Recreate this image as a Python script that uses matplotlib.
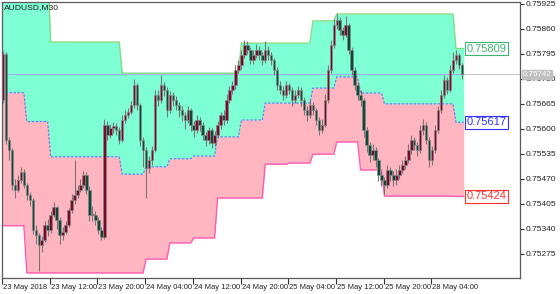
import matplotlib
matplotlib.use("Agg")
import matplotlib.pyplot as plt
from matplotlib.patches import Rectangle
import matplotlib.transforms as mtransforms
import numpy as np

# ---------------- data ----------------
title_text = "AUDUSD,M30"

opens = [0.75675, 0.75796, 0.75571, 0.75545, 0.75454, 0.75441, 0.75467, 0.75488, 0.75454, 0.75428,
         0.75415, 0.75337, 0.75324, 0.75298, 0.75311, 0.75350, 0.75337, 0.75376, 0.75396, 0.75363,
         0.75324, 0.75332, 0.75350, 0.75389, 0.75415, 0.75428, 0.75441, 0.75454, 0.75480, 0.75441,
         0.75376, 0.75376, 0.75363, 0.75337, 0.75319, 0.75610, 0.75584, 0.75602, 0.75607, 0.75597,
         0.75571, 0.75623, 0.75636, 0.75644, 0.75662, 0.75714, 0.75662, 0.75571, 0.75545, 0.75498,
         0.75519, 0.75545, 0.75688, 0.75675, 0.75714, 0.75701, 0.75649, 0.75688, 0.75675, 0.75662,
         0.75649, 0.75636, 0.75623, 0.75649, 0.75610, 0.75597, 0.75623, 0.75610, 0.75584, 0.75571,
         0.75597, 0.75563, 0.75584, 0.75610, 0.75636, 0.75623, 0.75675, 0.75701, 0.75714, 0.75753,
         0.75766, 0.75792, 0.75818, 0.75805, 0.75779, 0.75792, 0.75805, 0.75792, 0.75779, 0.75805,
         0.75792, 0.75779, 0.75753, 0.75714, 0.75701, 0.75688, 0.75714, 0.75701, 0.75675, 0.75688,
         0.75701, 0.75675, 0.75649, 0.75636, 0.75662, 0.75649, 0.75623, 0.75597, 0.75610, 0.75675,
         0.75753, 0.75818, 0.75870, 0.75883, 0.75857, 0.75844, 0.75870, 0.75805, 0.75753, 0.75714,
         0.75688, 0.75675, 0.75597, 0.75558, 0.75532, 0.75545, 0.75519, 0.75480, 0.75467, 0.75454,
         0.75493, 0.75480, 0.75467, 0.75480, 0.75493, 0.75506, 0.75519, 0.75545, 0.75571, 0.75558,
         0.75545, 0.75597, 0.75610, 0.75571, 0.75519, 0.75545, 0.75597, 0.75649, 0.75688, 0.75727,
         0.75701, 0.75753, 0.75779, 0.75792, 0.75766]
highs = [0.75802, 0.75800, 0.75580, 0.75550, 0.75470, 0.75480, 0.75500, 0.75495, 0.75460, 0.75435,
         0.75420, 0.75350, 0.75330, 0.75320, 0.75360, 0.75365, 0.75385, 0.75410, 0.75400, 0.75370,
         0.75345, 0.75360, 0.75395, 0.75430, 0.75520, 0.75455, 0.75470, 0.75490, 0.75488, 0.75450,
         0.75400, 0.75385, 0.75370, 0.75345, 0.75625, 0.75620, 0.75612, 0.75618, 0.75615, 0.75605,
         0.75635, 0.75650, 0.75655, 0.75672, 0.75730, 0.75720, 0.75668, 0.75580, 0.75552, 0.75530,
         0.75555, 0.75700, 0.75700, 0.75740, 0.75722, 0.75708, 0.75698, 0.75695, 0.75685, 0.75670,
         0.75660, 0.75645, 0.75660, 0.75655, 0.75620, 0.75635, 0.75630, 0.75618, 0.75592, 0.75605,
         0.75602, 0.75595, 0.75620, 0.75645, 0.75650, 0.75690, 0.75712, 0.75725, 0.75765, 0.75780,
         0.75805, 0.75830, 0.75828, 0.75812, 0.75805, 0.75822, 0.75815, 0.75800, 0.75828, 0.75815,
         0.75800, 0.75785, 0.75760, 0.75725, 0.75712, 0.75725, 0.75720, 0.75710, 0.75700, 0.75712,
         0.75708, 0.75682, 0.75660, 0.75675, 0.75670, 0.75655, 0.75630, 0.75625, 0.75690, 0.75765,
         0.75830, 0.75885, 0.75898, 0.75890, 0.75865, 0.75895, 0.75875, 0.75812, 0.75760, 0.75722,
         0.75700, 0.75680, 0.75605, 0.75565, 0.75560, 0.75552, 0.75525, 0.75490, 0.75475, 0.75505,
         0.75500, 0.75490, 0.75495, 0.75505, 0.75518, 0.75530, 0.75560, 0.75585, 0.75580, 0.75565,
         0.75610, 0.75625, 0.75618, 0.75578, 0.75555, 0.75610, 0.75660, 0.75700, 0.75740, 0.75735,
         0.75765, 0.75800, 0.75805, 0.75798, 0.75772]
lows = [0.75668, 0.75560, 0.75520, 0.75440, 0.75420, 0.75435, 0.75460, 0.75445, 0.75415, 0.75400,
        0.75325, 0.75300, 0.75230, 0.75280, 0.75305, 0.75320, 0.75330, 0.75370, 0.75340, 0.75300,
        0.75310, 0.75325, 0.75345, 0.75380, 0.75405, 0.75420, 0.75435, 0.75445, 0.75430, 0.75360,
        0.75360, 0.75350, 0.75325, 0.75310, 0.75312, 0.75570, 0.75575, 0.75590, 0.75585, 0.75560,
        0.75565, 0.75615, 0.75628, 0.75638, 0.75655, 0.75650, 0.75555, 0.75500, 0.75420, 0.75485,
        0.75505, 0.75540, 0.75660, 0.75668, 0.75685, 0.75630, 0.75640, 0.75660, 0.75648, 0.75630,
        0.75620, 0.75600, 0.75615, 0.75595, 0.75580, 0.75590, 0.75595, 0.75570, 0.75555, 0.75560,
        0.75550, 0.75555, 0.75575, 0.75600, 0.75610, 0.75615, 0.75668, 0.75690, 0.75705, 0.75745,
        0.75755, 0.75785, 0.75795, 0.75770, 0.75770, 0.75785, 0.75780, 0.75765, 0.75772, 0.75780,
        0.75765, 0.75740, 0.75700, 0.75690, 0.75675, 0.75680, 0.75690, 0.75660, 0.75668, 0.75680,
        0.75660, 0.75635, 0.75620, 0.75628, 0.75635, 0.75610, 0.75585, 0.75590, 0.75605, 0.75668,
        0.75745, 0.75810, 0.75860, 0.75845, 0.75830, 0.75838, 0.75795, 0.75740, 0.75700, 0.75675,
        0.75660, 0.75580, 0.75540, 0.75515, 0.75520, 0.75500, 0.75465, 0.75450, 0.75430, 0.75445,
        0.75465, 0.75450, 0.75455, 0.75470, 0.75485, 0.75495, 0.75510, 0.75535, 0.75545, 0.75530,
        0.75538, 0.75585, 0.75560, 0.75500, 0.75505, 0.75538, 0.75590, 0.75640, 0.75680, 0.75690,
        0.75695, 0.75745, 0.75770, 0.75755, 0.75730]
closes = [0.75796, 0.75571, 0.75545, 0.75454, 0.75441, 0.75467, 0.75488, 0.75454, 0.75428, 0.75415,
          0.75337, 0.75324, 0.75298, 0.75311, 0.75350, 0.75337, 0.75376, 0.75396, 0.75363, 0.75324,
          0.75332, 0.75350, 0.75389, 0.75415, 0.75428, 0.75441, 0.75454, 0.75480, 0.75441, 0.75376,
          0.75376, 0.75363, 0.75337, 0.75319, 0.75610, 0.75584, 0.75602, 0.75607, 0.75597, 0.75571,
          0.75623, 0.75636, 0.75644, 0.75662, 0.75714, 0.75662, 0.75571, 0.75545, 0.75498, 0.75519,
          0.75545, 0.75688, 0.75675, 0.75714, 0.75701, 0.75649, 0.75688, 0.75675, 0.75662, 0.75649,
          0.75636, 0.75623, 0.75649, 0.75610, 0.75597, 0.75623, 0.75610, 0.75584, 0.75571, 0.75597,
          0.75563, 0.75584, 0.75610, 0.75636, 0.75623, 0.75675, 0.75701, 0.75714, 0.75753, 0.75766,
          0.75792, 0.75818, 0.75805, 0.75779, 0.75792, 0.75805, 0.75792, 0.75779, 0.75805, 0.75792,
          0.75779, 0.75753, 0.75714, 0.75701, 0.75688, 0.75714, 0.75701, 0.75675, 0.75688, 0.75701,
          0.75675, 0.75649, 0.75636, 0.75662, 0.75649, 0.75623, 0.75597, 0.75610, 0.75675, 0.75753,
          0.75818, 0.75870, 0.75883, 0.75857, 0.75844, 0.75870, 0.75805, 0.75753, 0.75714, 0.75688,
          0.75675, 0.75597, 0.75558, 0.75532, 0.75545, 0.75519, 0.75480, 0.75467, 0.75454, 0.75493,
          0.75480, 0.75467, 0.75480, 0.75493, 0.75506, 0.75519, 0.75545, 0.75571, 0.75558, 0.75545,
          0.75597, 0.75610, 0.75571, 0.75519, 0.75545, 0.75597, 0.75649, 0.75688, 0.75727, 0.75701,
          0.75753, 0.75779, 0.75792, 0.75766, 0.75742]

# channel levels, one value per 4-hour block (8 bars of 30 minutes)
upper_levels = [0.76040, 0.76013, 0.75826, 0.75826, 0.75826, 0.75745, 0.75745, 0.75745, 0.75745, 0.75745,
                0.75823, 0.75823, 0.75823, 0.75881, 0.75899, 0.75899, 0.75899, 0.75899, 0.75899, 0.75809]
middle_levels = [0.75694, 0.75619, 0.75527, 0.75527, 0.75527, 0.75482, 0.75501, 0.75522, 0.75529, 0.75579,
                 0.75623, 0.75667, 0.75667, 0.75706, 0.75735, 0.75693, 0.75665, 0.75665, 0.75665, 0.75617]
lower_levels = [0.75348, 0.75225, 0.75225, 0.75225, 0.75225, 0.75225, 0.75261, 0.75303, 0.75316, 0.75420,
                0.75420, 0.75508, 0.75511, 0.75534, 0.75566, 0.75493, 0.75425, 0.75425, 0.75425, 0.75424]
block_len = 8

x_tick_bars = [0, 16, 32, 48, 64, 80, 96, 112, 128, 144]
x_tick_labels = ["23 May 2018", "23 May 12:00", "23 May 20:00", "24 May 04:00", "24 May 12:00",
                 "24 May 20:00", "25 May 04:00", "25 May 12:00", "25 May 20:00", "28 May 04:00"]
y_ticks = [0.75275, 0.75340, 0.75405, 0.75470, 0.75535, 0.75600, 0.75665, 0.75730, 0.75795, 0.75860, 0.75925]
bid_price = 0.75742
level_texts = ["0.75809", "0.75617", "0.75424"]

FONT = ["Liberation Sans", "DejaVu Sans"]
plt.rcParams["font.family"] = FONT

# ---------------- figure ----------------
W, H = 560, 294
fig = plt.figure(figsize=(W / 100, H / 100), dpi=100)
fig.patch.set_facecolor("white")
ax = fig.add_axes([2 / W, 16 / H, 518 / W, 276 / H])
ax.set_facecolor("white")

n = len(closes)
idx = np.arange(n)
upper = np.repeat(upper_levels, block_len)[:n]
middle = np.repeat(middle_levels, block_len)[:n]
lower = np.repeat(lower_levels, block_len)[:n]

xs = np.r_[-0.5, idx, n - 0.4]
up_x = np.r_[upper[0], upper, upper[-1]]
mid_x = np.r_[middle[0], middle, middle[-1]]
low_x = np.r_[lower[0], lower, lower[-1]]

ax.fill_between(xs, mid_x, up_x, color="#7FFFD4", lw=0, zorder=1)
ax.fill_between(xs, low_x, mid_x, color="#FFB6C1", lw=0, zorder=1)
ax.plot(xs, up_x, color="#80dd80", lw=1.0, zorder=2)
ax.plot(xs, low_x, color="#ff5cb4", lw=1.0, zorder=2)

# bid line
ax.axhline(bid_price, color="#c8c8c8", lw=0.8, zorder=2)
ax.plot([xs[0], xs[-1]], [bid_price, bid_price], color="#9db4e6", lw=0.8, zorder=2)

ax.plot(xs, mid_x, color="#6f78e8", lw=0.9, ls=(0, (2, 1.2)), zorder=3)

# candles
for i in range(n):
    o, h, l, c = opens[i], highs[i], lows[i], closes[i]
    ax.plot([i, i], [l, h], color="#767676", lw=0.8, zorder=4, solid_capstyle="butt")
    bull = c >= o
    face = "#7a0a2a" if bull else "#0d4a3a"
    bottom = min(o, c)
    height = max(abs(c - o), 0.000015)
    ax.add_patch(Rectangle((i - 0.42, bottom), 0.84, height, facecolor=face,
                           edgecolor="#888888", lw=0.5, zorder=5))

# level labels
label_colors = ["#3cb371", "#3030ff", "#ff3030"]
label_values = [upper[-1], middle[-1], lower[-1]]
for txt, val, col in zip(level_texts, label_values, label_colors):
    ax.text(155.6, val, txt, color=col, fontsize=8.0, va="center", ha="left", zorder=6,
            bbox=dict(boxstyle="square,pad=0.15", facecolor="white", edgecolor=col, lw=0.8))

ax.text(0.003, 0.992, title_text, transform=ax.transAxes, fontsize=6.1, va="top", ha="left",
        color="#202020", zorder=7)

# axes limits
def y_of_pixel(py):
    return 0.75925 - (py - 4) * 0.00065 / 24.97

x0 = (2 - 3) / 2.98
x1 = (520 - 3) / 2.98
ax.set_xlim(x0, x1)
ax.set_ylim(y_of_pixel(278), y_of_pixel(2))

# ticks
ax.yaxis.tick_right()
ax.set_yticks(y_ticks)
ax.set_yticklabels([f"{v:.5f}" for v in y_ticks])
ax.tick_params(axis="y", direction="out", length=3, width=0.8, pad=1, labelsize=6.0,
               colors="#303030", labelcolor="#202020")
ax.set_xticks(np.array(x_tick_bars) - 0.3)
ax.set_xticklabels(x_tick_labels)
ax.tick_params(axis="x", direction="out", length=4, width=0.8, pad=0.5, labelsize=5.5,
               colors="#303030", labelcolor="#202020")
offset = mtransforms.ScaledTranslation(1 / 100, 0, fig.dpi_scale_trans)
for lab in ax.get_xticklabels():
    lab.set_horizontalalignment("left")
    lab.set_transform(lab.get_transform() + offset)

for sp in ax.spines.values():
    sp.set_color("#5a5a5a")
    sp.set_linewidth(0.9)

# bid price tag on the axis
bid_y_fig = (16 + (bid_price - y_of_pixel(278)) / (y_of_pixel(2) - y_of_pixel(278)) * 276) / H
fig.text(522.5 / W, bid_y_fig, f"{bid_price:.5f}", fontsize=5.8, color="white", va="center", ha="left",
         bbox=dict(boxstyle="square,pad=0.12", facecolor="#c0c0c0", edgecolor="#c0c0c0"))

fig.savefig("out.png", dpi=100, facecolor="white")
